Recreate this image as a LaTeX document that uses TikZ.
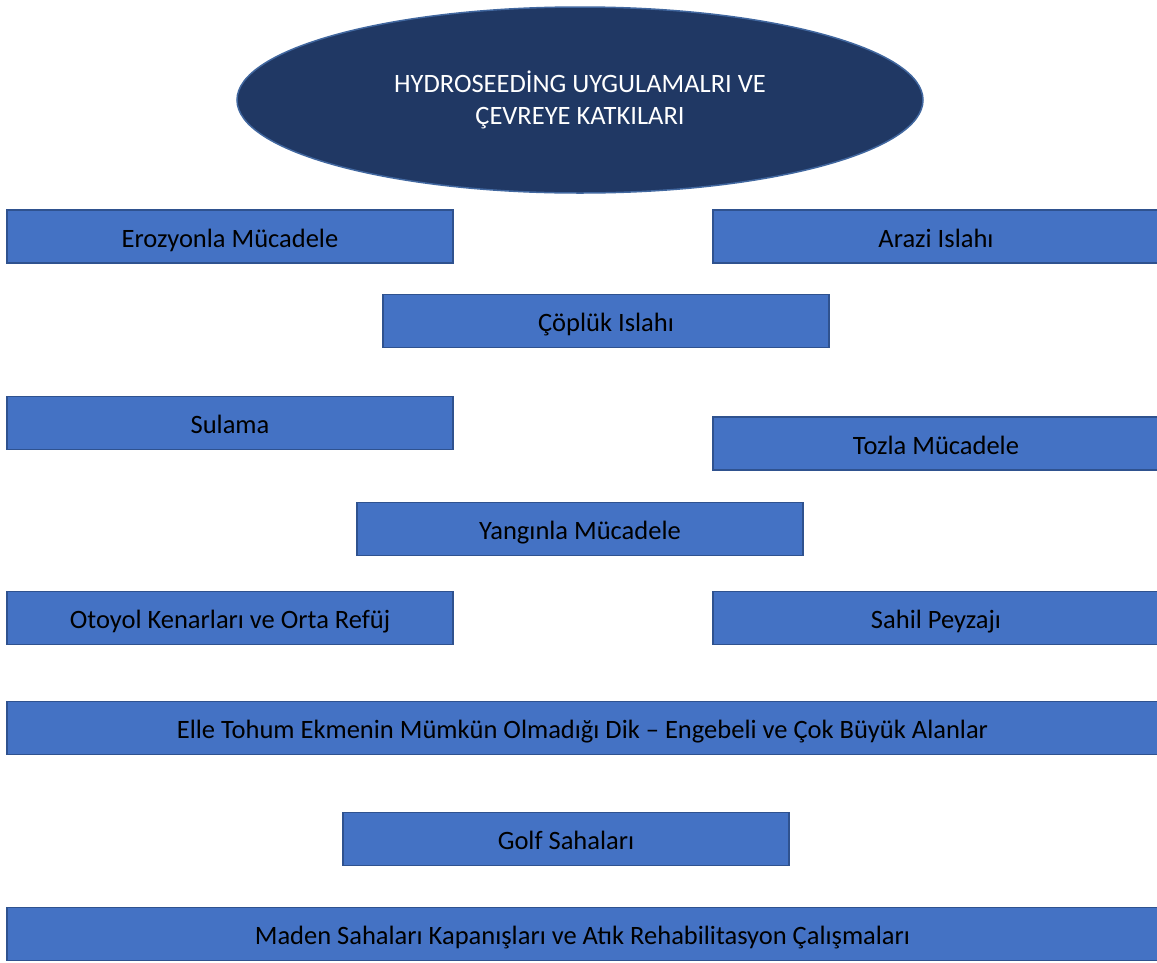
\documentclass[tikz,border=0pt]{standalone}
\usepackage{fontspec}
\setmainfont{Carlito}
\usetikzlibrary{shapes.geometric}

\definecolor{boxfill}{HTML}{4472C4}
\definecolor{boxline}{HTML}{2F528F}
\definecolor{titlefill}{HTML}{203864}
\definecolor{titleline}{HTML}{41679F}

\tikzset{
  itembox/.style={draw=boxline, line width=1.5pt, fill=boxfill, rectangle,
    minimum height=53pt, inner sep=0pt, text=black,
    text height=23pt, text depth=2pt,
    font=\fontsize{26.5}{32}\selectfont},
  titleoval/.style={draw=titleline, line width=1.5pt, fill=titlefill, ellipse,
    minimum width=686pt, minimum height=186pt, inner sep=0pt, text=white,
    align=center, font=\fontsize{26.5}{32}\selectfont}
}

\begin{document}
\begin{tikzpicture}[x=1pt, y=-1pt]
      % page frame
      \useasboundingbox (0,0) rectangle (1157,962);
      
      % Title oval
      \node[titleoval] (title) at (580,100) {HYDROSEEDİNG UYGULAMALRI VE\\ÇEVREYE KATKILARI};
      
      % Application boxes: name/x/y/width/label
      \foreach \name/\x/\y/\w/\label in {
          erozyon/230/236.5/446/Erozyonla Mücadele,
          arazi/936/236.5/446/Arazi Islahı,
          coplyk/606/321/446/Çöplük Islahı,
          sulama/230/423/446/Sulama,
          tozla/936/443.5/446/Tozla Mücadele,
          yangin/580/529/446/Yangınla Mücadele,
          otoyol/230/618/446/Otoyol Kenarları ve Orta Refüj,
          sahil/936/618/446/Sahil Peyzajı,
          elle/582.5/728/1151/Elle Tohum Ekmenin Mümkün Olmadığı Dik – Engebeli ve Çok Büyük Alanlar,
          golf/566/839/446/Golf Sahaları,
          maden/582.5/934/1151/Maden Sahaları Kapanışları ve Atık Rehabilitasyon Çalışmaları}
      {
        \node[itembox, minimum width=\w pt] (\name) at (\x,\y) {\label};
      }
    \end{tikzpicture}
\end{document}
